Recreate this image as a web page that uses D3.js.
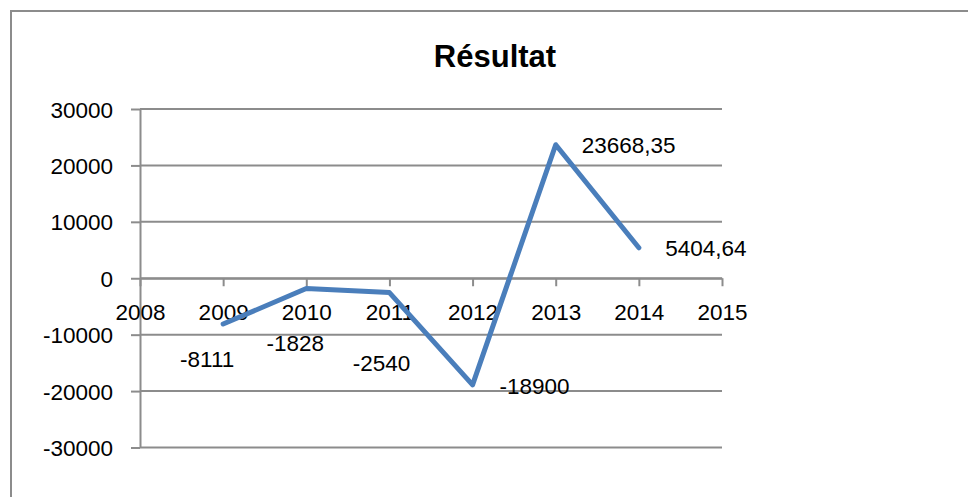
<!DOCTYPE html>
<html>
<head>
<meta charset="utf-8">
<script src="https://cdn.jsdelivr.net/npm/d3@7"></script>
<style>
  body { margin: 0; background: #fff; }
  text { font-family: "Liberation Sans", Arial, sans-serif; fill: #000; }
</style>
</head>
<body>
<div id="chart"></div>
<script>
// chart data
const years = [2009, 2010, 2011, 2012, 2013, 2014];
const values = [-8111, -1828, -2540, -18900, 23668.35, 5404.64];
const valueLabels = ["-8111", "-1828", "-2540", "-18900", "23668,35", "5404,64"];
const xTicks = [2008, 2009, 2010, 2011, 2012, 2013, 2014, 2015];
const yTicks = [-30000, -20000, -10000, 0, 10000, 20000, 30000];
const title = "Résultat";

let width = 968,
	height = 497;

let svg = d3.select("#chart")
	.append("svg")
	.attr("width", width)
	.attr("height", height)
	.style("background", "white");

// outer frame (top and left edges visible)
svg.append("path")
	.attr("d", "M11,497 L11,11 L968,11")
	.attr("fill", "none")
	.attr("stroke", "#8c8c8c")
	.attr("stroke-width", 2);

// scales
let x = d3.scaleLinear().domain([2008, 2015]).range([140, 722]);
let y = d3.scaleLinear().domain([-30000, 30000]).range([447.5, 109]);

// title
svg.append("text")
	.attr("x", 495)
	.attr("y", 67)
	.attr("text-anchor", "middle")
	.style("font-weight", "bold")
	.style("font-size", "31px")
	.text(title);

// y axis (plain hyphen for negatives, like the original)
let yAxis = svg.append("g")
	.attr("transform", "translate(140,0)")
	.call(d3.axisLeft(y)
		.tickValues(yTicks)
		.tickSizeInner(9)
		.tickSizeOuter(0)
		.tickFormat(d => String(d)));

yAxis.select(".domain").attr("stroke", "#8c8c8c").attr("stroke-width", 2);
yAxis.selectAll(".tick line").attr("stroke", "#8c8c8c").attr("stroke-width", 2);
yAxis.selectAll(".tick text")
	.attr("x", -27)
	.attr("dy", "0.36em")
	.style("font-size", "22.5px")
	.style("font-family", "Liberation Sans, Arial, sans-serif");

// horizontal gridlines
svg.append("g")
	.selectAll("line")
	.data(yTicks)
	.enter()
	.append("line")
	.attr("x1", 140)
	.attr("x2", 722)
	.attr("y1", d => y(d))
	.attr("y2", d => y(d))
	.attr("stroke", "#8c8c8c")
	.attr("stroke-width", 2);

// x axis at zero
let xAxis = svg.append("g")
	.attr("transform", "translate(0," + y(0) + ")")
	.call(d3.axisBottom(x)
		.tickValues(xTicks)
		.tickSizeInner(8)
		.tickSizeOuter(0)
		.tickFormat(d => String(d)));

xAxis.select(".domain").attr("stroke", "#8c8c8c").attr("stroke-width", 2);
xAxis.selectAll(".tick line").attr("stroke", "#8c8c8c").attr("stroke-width", 2);
xAxis.selectAll(".tick text")
	.attr("y", 42)
	.attr("dy", 0)
	.style("font-size", "22.5px")
	.style("font-family", "Liberation Sans, Arial, sans-serif");

// the line
let line = d3.line()
	.x((d, i) => x(years[i]))
	.y(d => y(d));

svg.append("path")
	.datum(values)
	.attr("d", line)
	.attr("fill", "none")
	.attr("stroke", "#4a7ebb")
	.attr("stroke-width", 5)
	.attr("stroke-linejoin", "round")
	.attr("stroke-linecap", "round");

// data labels, offset from each point
let labelOffsets = [[-16, 35], [-11, 54], [-8, 70], [62, 1], [73, 0], [67, 0]];

svg.selectAll("text.value")
	.data(values)
	.enter()
	.append("text")
	.attr("class", "value")
	.attr("x", (d, i) => x(years[i]) + labelOffsets[i][0])
	.attr("y", (d, i) => y(d) + labelOffsets[i][1])
	.attr("dy", "0.36em")
	.attr("text-anchor", "middle")
	.style("font-size", "22.5px")
	.text((d, i) => valueLabels[i]);
</script>
</body>
</html>
